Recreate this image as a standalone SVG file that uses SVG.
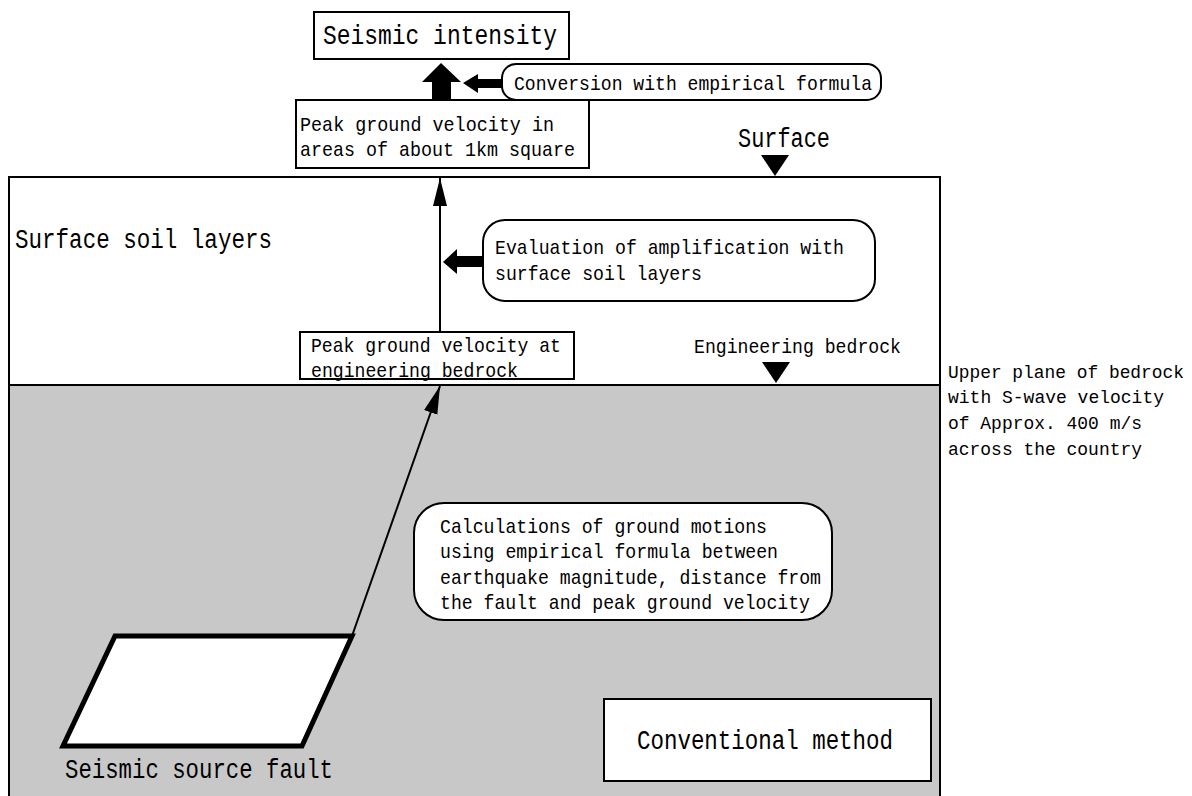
<svg xmlns="http://www.w3.org/2000/svg" width="1192" height="796" viewBox="0 0 1192 796">
<style>
text{font-family:"Liberation Mono","DejaVu Sans Mono",monospace;fill:#000}
.s{font-size:21px}
.n{font-size:18px}
.l{font-size:27px}
.box{fill:#fff;stroke:#000;stroke-width:2}
.ln{fill:none;stroke:#000;stroke-width:2}
.blk{fill:#000;stroke:none}
</style>
<defs>
<marker id="ah" markerUnits="userSpaceOnUse" markerWidth="30" markerHeight="16" refX="28" refY="7" orient="auto">
<path d="M0,0 L28,7 L0,14 z" fill="#000"/>
</marker>
</defs>
<rect width="1192" height="796" fill="#fff"/>

<g id="ground">
<rect x="9" y="385" width="931" height="420" fill="#c8c8c8"/>
<rect x="9" y="177" width="931" height="628" fill="none" stroke="#000" stroke-width="2"/>
<line x1="9" y1="385" x2="940" y2="385" stroke="#000" stroke-width="2"/>
</g>

<g id="surface-soil-label"><text class="l" x="15" y="248" textLength="257" lengthAdjust="spacingAndGlyphs">Surface soil layers</text></g>

<g id="surface-label">
<text class="l" x="738" y="147" textLength="92" lengthAdjust="spacingAndGlyphs">Surface</text>
<polygon class="blk" points="761,155 789,155 775,176"/>
</g>

<g id="bedrock-label">
<text class="s" x="694" y="353" textLength="207" lengthAdjust="spacingAndGlyphs">Engineering bedrock</text>
<polygon class="blk" points="762,362 790,362 776,383"/>
</g>

<g id="upper-plane-note">
<text class="n" x="948" y="378" textLength="236" lengthAdjust="spacingAndGlyphs">Upper plane of bedrock</text>
<text class="n" x="948" y="403" textLength="216" lengthAdjust="spacingAndGlyphs">with S-wave velocity</text>
<text class="n" x="948" y="429" textLength="194" lengthAdjust="spacingAndGlyphs">of Approx. 400 m/s</text>
<text class="n" x="948" y="455" textLength="194" lengthAdjust="spacingAndGlyphs">across the country</text>
</g>

<g id="connectors">
<line class="ln" x1="440" y1="332" x2="440" y2="178" marker-end="url(#ah)"/>
<line class="ln" x1="352" y1="636" x2="440" y2="386" marker-end="url(#ah)"/>
<polygon class="blk" points="441,63 461,82 451,82 451,100 432,100 432,82 422,82"/>
<polygon class="blk" points="463,83 478,74 478,79 504,79 504,88 478,88 478,93"/>
<polygon class="blk" points="443,262 457,249 457,256 483,256 483,267 457,267 457,274"/>
</g>

<g id="seismic-intensity">
<rect class="box" x="314" y="12" width="255" height="47"/>
<text class="l" x="323" y="44" textLength="234" lengthAdjust="spacingAndGlyphs">Seismic intensity</text>
</g>

<g id="conversion">
<rect class="box" x="502" y="64" width="379" height="36" rx="14" ry="14"/>
<text class="s" x="514" y="90" textLength="358" lengthAdjust="spacingAndGlyphs">Conversion with empirical formula</text>
</g>

<g id="pgv-1km">
<rect class="box" x="296" y="100" width="293" height="68"/>
<text class="s" x="300" y="131" textLength="254" lengthAdjust="spacingAndGlyphs">Peak ground velocity in</text>
<text class="s" x="300" y="156" textLength="275" lengthAdjust="spacingAndGlyphs">areas of about 1km square</text>
</g>

<g id="amplification">
<rect class="box" x="483" y="220" width="392" height="81" rx="22" ry="22"/>
<text class="s" x="495" y="254" textLength="349" lengthAdjust="spacingAndGlyphs">Evaluation of amplification with</text>
<text class="s" x="495" y="280" textLength="207" lengthAdjust="spacingAndGlyphs">surface soil layers</text>
</g>

<g id="pgv-bedrock">
<rect class="box" x="300" y="332" width="274" height="47"/>
<text class="s" x="311" y="352" textLength="250" lengthAdjust="spacingAndGlyphs">Peak ground velocity at</text>
<text class="s" x="311" y="377" textLength="207" lengthAdjust="spacingAndGlyphs">engineering bedrock</text>
</g>

<g id="calculations">
<rect class="box" x="414" y="503" width="418" height="117" rx="30" ry="30"/>
<text class="s" x="440" y="533" textLength="327" lengthAdjust="spacingAndGlyphs">Calculations of ground motions</text>
<text class="s" x="440" y="558" textLength="338" lengthAdjust="spacingAndGlyphs">using empirical formula between</text>
<text class="s" x="440" y="584" textLength="381" lengthAdjust="spacingAndGlyphs">earthquake magnitude, distance from</text>
<text class="s" x="440" y="609" textLength="370" lengthAdjust="spacingAndGlyphs">the fault and peak ground velocity</text>
</g>

<g id="source-fault">
<polygon points="115,636 352,636 302,746 63,746" fill="#fff" stroke="#000" stroke-width="5" stroke-linejoin="miter"/>
<text class="l" x="65" y="778" textLength="268" lengthAdjust="spacingAndGlyphs">Seismic source fault</text>
</g>

<g id="conventional-method">
<rect class="box" x="604" y="699" width="327" height="82"/>
<text class="l" x="637" y="749" textLength="256" lengthAdjust="spacingAndGlyphs">Conventional method</text>
</g>
</svg>
